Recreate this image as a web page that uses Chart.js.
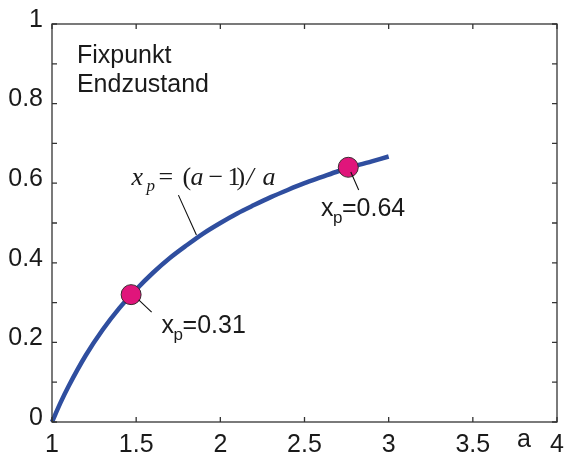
<!DOCTYPE html>
<html><head><meta charset="utf-8">
<script src="https://cdn.jsdelivr.net/npm/chart.js@4.4.1/dist/chart.umd.min.js"></script>
<style>html,body{margin:0;padding:0;background:#fff}#wrap{width:568px;height:458px}</style>
</head><body><div id="wrap"><canvas id="c" width="568" height="458"></canvas></div>
<script>
// ---- data ----
const aValues  = [1.0, 1.05, 1.1, 1.2, 1.3, 1.4, 1.5, 1.6, 1.7, 1.8, 1.9, 2.0, 2.1, 2.2, 2.3, 2.4, 2.5, 2.6, 2.7, 2.8, 2.9, 3.0];
const xpValues = [0.0, 0.048, 0.091, 0.167, 0.231, 0.286, 0.333, 0.375, 0.412, 0.444, 0.474, 0.5, 0.524, 0.545, 0.565, 0.583, 0.6, 0.615, 0.630, 0.643, 0.655, 0.667];
const markA    = [1.47, 2.76];
const markXp   = [0.32, 0.64];
const markLabels = ['0.31', '0.64'];
const xTickValues = [1, 1.5, 2, 2.5, 3, 3.5, 4];
const xTickLabels = ['1', '1.5', '2', '2.5', '3', '3.5', '4'];
const yTickValues = [0, 0.1, 0.2, 0.3, 0.4, 0.5, 0.6, 0.7, 0.8, 0.9, 1];
const yTickLabels = ['0', '', '0.2', '', '0.4', '', '0.6', '', '0.8', '', '1'];
const titleLines = ['Fixpunkt', 'Endzustand'];
const xAxisLabel = 'a';

const SANS = "'Liberation Sans', Arial, Helvetica, sans-serif";
const SERIF = "'Liberation Serif', 'Times New Roman', serif";
const INK = '#1a1a1a';

const annot = {
  id: 'annot',
  afterDraw(chart) {
    const ctx = chart.ctx, xs = chart.scales.x, ys = chart.scales.y, ca = chart.chartArea;
    const X = v => xs.getPixelForValue(v), Y = v => ys.getPixelForValue(v);
    ctx.save();
    // box
    ctx.strokeStyle = '#333'; ctx.lineWidth = 1.3;
    ctx.strokeRect(ca.left, ca.top, ca.right - ca.left, ca.bottom - ca.top);
    // inward ticks
    ctx.beginPath();
    const tl = 5;
    xTickValues.forEach(v => { const p = X(v); ctx.moveTo(p, ca.bottom); ctx.lineTo(p, ca.bottom - tl); ctx.moveTo(p, ca.top); ctx.lineTo(p, ca.top + tl); });
    yTickValues.forEach(v => { const p = Y(v); ctx.moveTo(ca.left, p); ctx.lineTo(ca.left + tl, p); ctx.moveTo(ca.right, p); ctx.lineTo(ca.right - tl, p); });
    ctx.stroke();

    ctx.fillStyle = INK; ctx.textBaseline = 'alphabetic'; ctx.textAlign = 'left';
    // title lines
    ctx.font = '25px ' + SANS;
    ctx.fillText(titleLines[0], X(1.148), Y(0.902));
    ctx.fillText(titleLines[1], X(1.148), Y(0.829));
    // axis label
    ctx.fillText(xAxisLabel, X(3.763), Y(-0.063));

    // formula
    const fx = X(1.473), fy = Y(0.595);
    const pieces = [
      ['x', 0, 0, 'italic 26px '], ['p', 15, 6, 'italic 17px '], ['=', 27, 0, '26px '], ['(', 51, 0, '26px '],
      ['a', 59, 0, 'italic 26px '], ['\u2212', 77, 0, '26px '], ['1', 96, 0, '26px '], [')', 105, 0, '26px '],
      ['/', 115, 0, 'italic 26px '], ['a', 131, 0, 'italic 26px ']
    ];
    pieces.forEach(([t, dx, dy, f]) => { ctx.font = f + SERIF; ctx.fillText(t, fx + dx, fy + dy); });

    // leader lines
    ctx.strokeStyle = '#111'; ctx.lineWidth = 1.1;
    const leaders = [[1.751, 0.570, 1.858, 0.470], [2.775, 0.628, 2.822, 0.583], [1.515, 0.307, 1.592, 0.276]];
    ctx.beginPath();
    leaders.forEach(([a1, y1, a2, y2]) => { ctx.moveTo(X(a1), Y(y1)); ctx.lineTo(X(a2), Y(y2)); });
    ctx.stroke();

    // point labels
    const labelPos = [[1.651, 0.224], [2.598, 0.518]];
    labelPos.forEach(([a, y], i) => {
      const lx = X(a), ly = Y(y);
      ctx.font = '25px ' + SANS; ctx.fillText('x', lx, ly);
      ctx.font = '17px ' + SANS; ctx.fillText('p', lx + 12, ly + 7);
      ctx.font = '25px ' + SANS; ctx.fillText('=' + markLabels[i], lx + 21, ly);
    });
    ctx.restore();
  }
};

new Chart(document.getElementById('c'), {
  type: 'scatter',
  data: {
    datasets: [
      {
        data: markA.map((a, i) => ({ x: a, y: markXp[i] })),
        showLine: false, pointRadius: 10, pointHoverRadius: 10,
        pointBackgroundColor: '#e0157b', pointBorderColor: '#3a2a30', pointBorderWidth: 1, clip: false, order: 0
      },
      {
        data: aValues.map((a, i) => ({ x: a, y: xpValues[i] })),
        showLine: true, borderColor: '#2f4e9f', borderWidth: 4.5, pointRadius: 0, tension: 0,
        cubicInterpolationMode: 'monotone', clip: false, borderCapStyle: 'butt', order: 1
      }
    ]
  },
  options: {
    responsive: false, animation: false, devicePixelRatio: 1,
    layout: { padding: { left: 0, top: 24, right: 9, bottom: 0 } },
    plugins: { legend: { display: false }, tooltip: { enabled: false } },
    scales: {
      x: {
        type: 'linear', min: 1, max: 4,
        grid: { display: false, drawTicks: false }, border: { display: false },
        afterBuildTicks: s => { s.ticks = xTickValues.map(v => ({ value: v })); },
        afterFit: s => { s.height = 36; s.paddingLeft = 0; s.paddingRight = 0; },
        ticks: { color: INK, font: { family: SANS, size: 25 }, padding: 8, maxRotation: 0,
          callback: (v) => xTickLabels[xTickValues.indexOf(v)] }
      },
      y: {
        type: 'linear', min: 0, max: 1,
        grid: { display: false, drawTicks: false }, border: { display: false },
        afterBuildTicks: s => { s.ticks = yTickValues.map(v => ({ value: v })); },
        afterFit: s => { s.width = 52; s.paddingTop = 0; s.paddingBottom = 0; },
        ticks: { color: INK, font: { family: SANS, size: 25 }, padding: 9, labelOffset: -4,
          callback: (v) => { const i = yTickValues.findIndex(t => Math.abs(t - v) < 1e-9); return i >= 0 ? yTickLabels[i] : ''; } }
      }
    }
  },
  plugins: [annot]
});
</script></body></html>
